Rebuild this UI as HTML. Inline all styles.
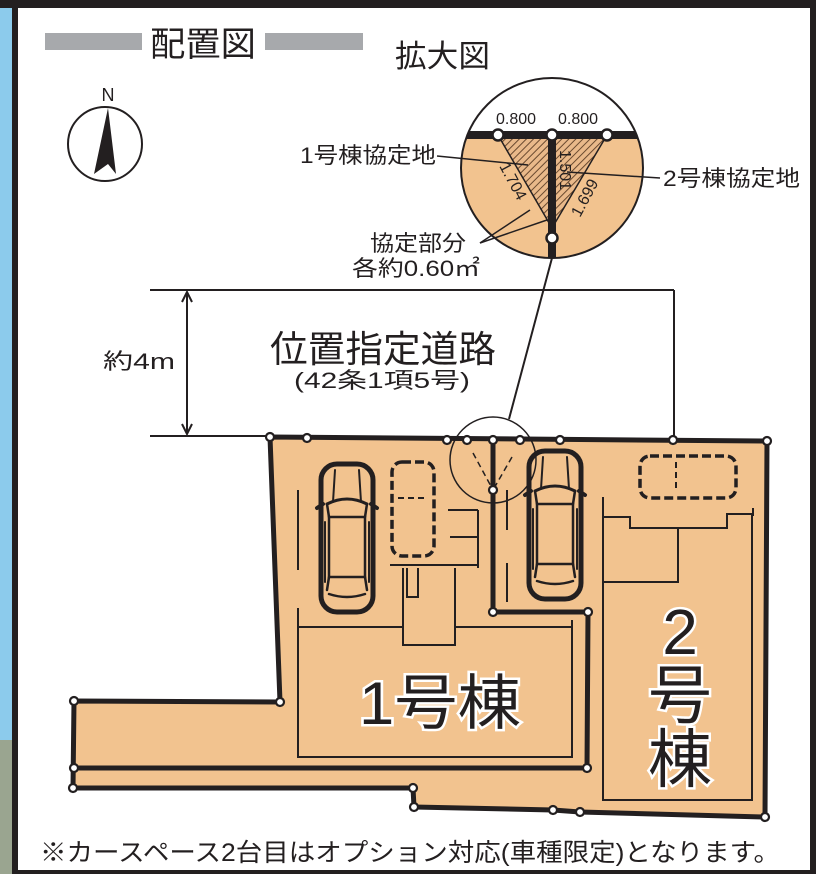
<!DOCTYPE html>
<html><head><meta charset="utf-8"><style>
html,body{margin:0;padding:0;background:#fff}
svg{display:block}
text{font-family:"Liberation Sans","Noto Sans CJK JP",sans-serif}
</style></head><body>
<svg width="816" height="874" viewBox="0 0 816 874" xmlns="http://www.w3.org/2000/svg">
<defs>
<pattern id="hatch" width="5" height="5" patternUnits="userSpaceOnUse" patternTransform="rotate(45)">
<rect width="5" height="5" fill="#e9b98a"/><line x1="0" y1="0" x2="0" y2="5" stroke="#6a4a30" stroke-width="2"/>
</pattern>
<g id="car" fill="none" stroke="#231f20" stroke-linecap="round">
<rect x="4" y="2" width="52" height="148" rx="16" stroke-width="5"/>
<path d="M10 42 Q30 32 50 42" stroke-width="3"/>
<path d="M12 55 L48 55 L48 115 L12 115 Z" stroke-width="2.5"/>
<path d="M10 42 L12 55 M50 42 L48 55 M12 115 L10 128 M48 115 L50 128" stroke-width="2.5"/>
<path d="M12 132 Q30 138 48 132" stroke-width="2.5"/>
<path d="M18 8 L16 40 M42 8 L44 40" stroke-width="2"/>
<path d="M0 46 L6 42 M60 46 L54 42" stroke-width="4"/>
<line x1="8" y1="60" x2="8" y2="120" stroke-width="2"/><line x1="52" y1="60" x2="52" y2="120" stroke-width="2"/>
</g>
</defs>
<rect x="0" y="0" width="816" height="874" fill="#fff"/>
<rect x="0" y="0" width="12" height="874" fill="#8ccbec"/>
<rect x="0" y="740" width="12" height="134" fill="#9aa590"/>
<rect x="0" y="0" width="816" height="8" fill="#231f20"/>
<rect x="12" y="0" width="6" height="874" fill="#231f20"/>
<rect x="810" y="0" width="6" height="874" fill="#231f20"/>
<rect x="12" y="870" width="804" height="4" fill="#231f20"/>

<rect x="45" y="33" width="97" height="17" fill="#a7a9ac"/>
<rect x="265" y="33" width="98" height="17" fill="#a7a9ac"/>
<text x="150" y="56" font-size="34" textLength="106" lengthAdjust="spacingAndGlyphs" fill="#231f20">配置図</text>
<text x="395" y="67" font-size="31" textLength="95" lengthAdjust="spacingAndGlyphs" fill="#231f20">拡大図</text>

<ellipse cx="105" cy="144" rx="37" ry="37" fill="#fff" stroke="#231f20" stroke-width="2"/>
<text x="108" y="101" font-size="18" text-anchor="middle" fill="#231f20">N</text>
<path d="M108 108 L94 174 L108 164 L116 174 Z" fill="#231f20"/>

<g stroke="#231f20" stroke-width="2" fill="none">
<line x1="150" y1="290" x2="674" y2="290"/>
<line x1="674" y1="290" x2="674" y2="440"/>
<line x1="150" y1="436" x2="272" y2="436"/>
<line x1="187" y1="292" x2="187" y2="434"/>
<path d="M182 302 L187 292 L192 302 M182 424 L187 434 L192 424"/>
</g>
<text x="103" y="369" font-size="22" textLength="72" lengthAdjust="spacingAndGlyphs" fill="#231f20">約4m</text>
<text x="270" y="362" font-size="37" textLength="226" lengthAdjust="spacingAndGlyphs" fill="#231f20">位置指定道路</text>
<text x="294" y="388" font-size="22" textLength="176" lengthAdjust="spacingAndGlyphs" fill="#231f20">(42条1項5号)</text>

<path d="M270 437 L767 441 L765 817 L580 812 L553 810 L414 807 L413 788 L73 788 L74 701 L280 702 Z" fill="#f2c38f" stroke="#231f20" stroke-width="5" stroke-linejoin="round"/>
<path d="M74 768 L587 768 L588 612 L493 612 L493 440" fill="none" stroke="#231f20" stroke-width="5"/>

<g stroke="#231f20" stroke-width="2" fill="none">
<path d="M403 627 L298 627 L298 757 L572 757 L572 627 L455 627"/>
<path d="M403 568 L403 645 L455 645 L455 568"/>
<path d="M298 490 L298 570 M298 608 L298 627"/>
<path d="M390 565 L478 565 M478 510 L478 568 M448 510 L478 510 M450 537 L477 537"/>
<path d="M407 568 L407 597 L418 597 L418 568"/>
<line x1="572" y1="620" x2="572" y2="627"/>
<path d="M603 497 L603 800 L752 800 L752 514 L727 514 L727 528 L630 528 L630 517 L603 517"/>
<path d="M603 582 L678 582 L678 528"/>
<line x1="753" y1="508" x2="753" y2="516"/>
<line x1="507" y1="490" x2="507" y2="530"/>
<line x1="507" y1="563" x2="507" y2="602"/>
</g>

<use href="#car" transform="translate(317,462)"/>
<use href="#car" transform="translate(525,449)"/>
<g fill="none" stroke="#231f20" stroke-width="3.5" stroke-dasharray="9 4">
<rect x="392" y="462" width="42" height="94" rx="10"/>
<rect x="640" y="456" width="96" height="42" rx="10"/>
</g>
<g stroke="#231f20" stroke-width="2" stroke-dasharray="6 4">
<line x1="398" y1="498" x2="428" y2="498"/>
<line x1="676" y1="462" x2="676" y2="492"/>
</g>

<circle cx="493" cy="460" r="43" fill="none" stroke="#231f20" stroke-width="1.5"/>
<g stroke="#231f20" stroke-width="1.5" stroke-dasharray="6 4">
<line x1="473" y1="453" x2="493" y2="490"/><line x1="512" y1="457" x2="493" y2="490"/>
</g>
<line x1="509" y1="419" x2="552" y2="258" stroke="#231f20" stroke-width="2"/>

<g fill="#fff" stroke="#231f20" stroke-width="2.2">
<circle cx="270" cy="437" r="4"/><circle cx="307" cy="438" r="4"/><circle cx="447" cy="440" r="4"/>
<circle cx="467" cy="440" r="4"/><circle cx="493" cy="440" r="4"/><circle cx="520" cy="440" r="4"/>
<circle cx="560" cy="440" r="4"/><circle cx="673" cy="440" r="4"/><circle cx="767" cy="441" r="4"/>
<circle cx="493" cy="490" r="4"/><circle cx="493" cy="612" r="4"/><circle cx="588" cy="612" r="4"/>
<circle cx="587" cy="768" r="4"/><circle cx="280" cy="702" r="4"/><circle cx="74" cy="701" r="4"/>
<circle cx="74" cy="768" r="4"/><circle cx="73" cy="788" r="4"/><circle cx="413" cy="788" r="4"/>
<circle cx="414" cy="807" r="4"/><circle cx="553" cy="810" r="4"/><circle cx="580" cy="812" r="4"/>
<circle cx="765" cy="817" r="4"/>
</g>

<g font-size="60" fill="#231f20" stroke="#fff" stroke-width="5" paint-order="stroke" text-anchor="middle">
<text x="440" y="724" textLength="162" lengthAdjust="spacingAndGlyphs">1号棟</text>
<text x="680" y="654" font-size="64">2</text>
<text x="680" y="718" font-size="64">号</text>
<text x="680" y="782" font-size="64">棟</text>
</g>

<clipPath id="cc"><ellipse cx="552" cy="168" rx="91" ry="90"/></clipPath>
<ellipse cx="552" cy="168" rx="91" ry="90" fill="#fff"/>
<g clip-path="url(#cc)">
<rect x="450" y="135" width="200" height="130" fill="#f2c38f"/>
<path d="M498 135 L552 135 L552 228 Z" fill="url(#hatch)"/>
<path d="M552 135 L607 135 L552 228 Z" fill="url(#hatch)"/>
<path d="M498 135 L552 228 L607 135" fill="none" stroke="#231f20" stroke-width="1.5"/>
<rect x="450" y="131" width="200" height="8" fill="#231f20"/>
<rect x="548" y="135" width="8" height="130" fill="#231f20"/>
</g>
<ellipse cx="552" cy="168" rx="91" ry="90" fill="none" stroke="#231f20" stroke-width="2"/>
<g fill="#fff" stroke="#231f20" stroke-width="2.5">
<circle cx="498" cy="135" r="5.5"/><circle cx="552" cy="135" r="5.5"/><circle cx="607" cy="135" r="5.5"/><circle cx="552" cy="238" r="5.5"/>
</g>
<g font-size="16" fill="#231f20">
<text x="516" y="124" text-anchor="middle">0.800</text>
<text x="578" y="124" text-anchor="middle">0.800</text>
<text transform="translate(499,166) rotate(62)">1.704</text>
<text transform="translate(560,150) rotate(90)">1.501</text>
<text transform="translate(580,218) rotate(-62)">1.699</text>
</g>
<g stroke="#231f20" stroke-width="1.5">
<line x1="437" y1="156" x2="528" y2="165"/>
<line x1="567" y1="172" x2="660" y2="178"/>
<line x1="480" y1="243" x2="530" y2="210"/>
<line x1="480" y1="243" x2="547" y2="220"/>
</g>
<g font-size="22" fill="#231f20">
<text x="300" y="163" textLength="136" lengthAdjust="spacingAndGlyphs">1号棟協定地</text>
<text x="663" y="186" textLength="137" lengthAdjust="spacingAndGlyphs">2号棟協定地</text>
<text x="370" y="251" textLength="96" lengthAdjust="spacingAndGlyphs">協定部分</text>
<text x="352" y="276" textLength="128" lengthAdjust="spacingAndGlyphs">各約0.60㎡</text>
</g>

<text x="40" y="861" font-size="25" textLength="740" lengthAdjust="spacingAndGlyphs" fill="#231f20">※カースペース2台目はオプション対応(車種限定)となります。</text>
</svg>
</body></html>
